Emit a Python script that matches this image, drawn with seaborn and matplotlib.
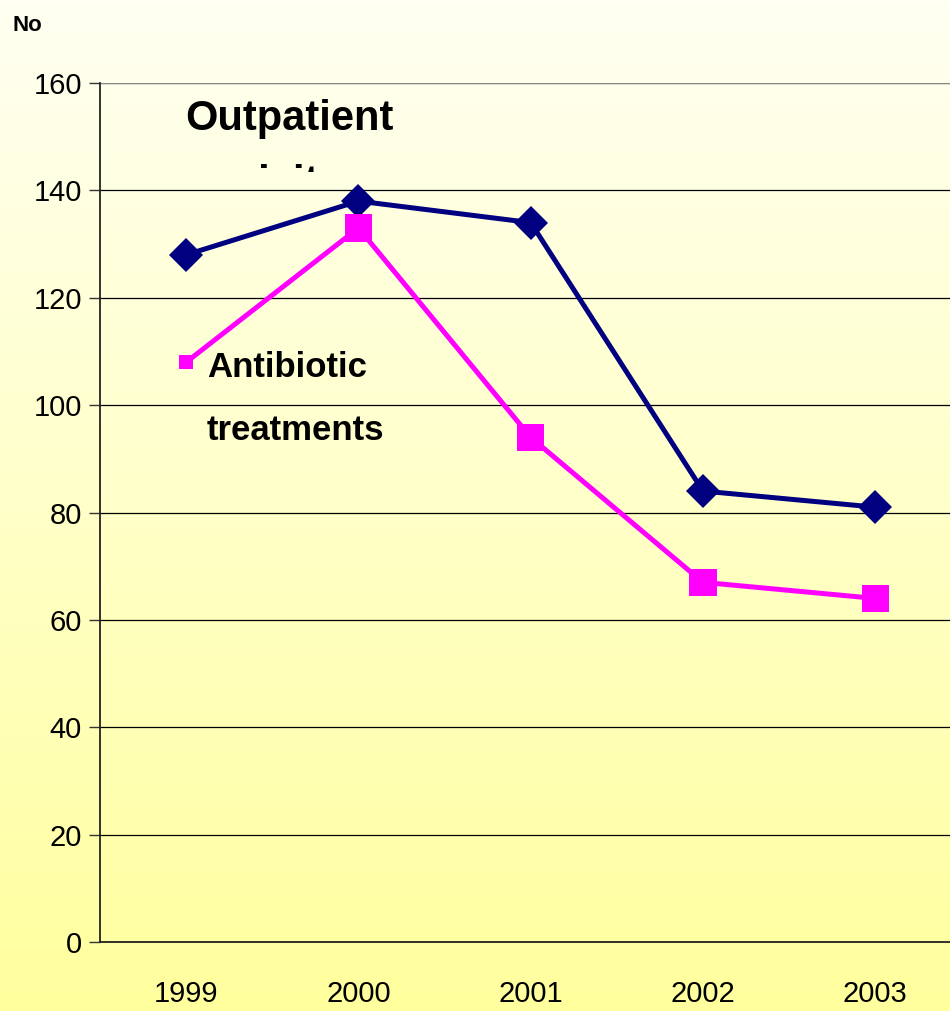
"""
Outpatient visits vs antibiotic treatments, 1999-2003
"""
import numpy as np
import pandas as pd
import matplotlib
matplotlib.use('Agg')
import matplotlib.pyplot as plt
import seaborn as sns
from matplotlib.transforms import Bbox, TransformedBbox

# Data
years = ['1999', '2000', '2001', '2002', '2003']
outpatient_visits = [128, 138, 134, 84, 81]
antibiotic_treatments = [108, 133, 94, 67, 64]
y_ticks = [0, 20, 40, 60, 80, 100, 120, 140, 160]

df = pd.DataFrame({
    'year': years * 2,
    'x': list(range(len(years))) * 2,
    'value': outpatient_visits + antibiotic_treatments,
    'series': ['Outpatient visits'] * len(years) + ['Antibiotic treatments'] * len(years),
})

sns.set_style('white')
plt.rcParams['font.family'] = ['Liberation Sans', 'DejaVu Sans']
plt.rcParams['text.color'] = 'black'
plt.rcParams['xtick.color'] = 'black'
plt.rcParams['ytick.color'] = 'black'
plt.rcParams['axes.labelcolor'] = 'black'

fig = plt.figure(figsize=(9.5, 10.11), dpi=100)

# Gradient background
bg = fig.add_axes([0, 0, 1, 1], zorder=-1)
top = np.array([255, 255, 242]) / 255
bottom = np.array([255, 255, 158]) / 255
t = np.linspace(0, 1, 256)[:, None]
grad = (top * (1 - t) + bottom * t)[:, None, :]
bg.imshow(grad, aspect='auto', extent=[0, 1, 0, 1])
bg.axis('off')

ax = fig.add_axes([0.1053, 0.0682, 0.9067, 0.8497])
ax.set_facecolor('none')

navy = '#000080'
magenta = '#FF00FF'

sub_o = df[df['series'] == 'Outpatient visits']
sub_a = df[df['series'] == 'Antibiotic treatments']

sns.lineplot(data=sub_o, x='x', y='value', ax=ax, color=navy, linewidth=3.6,
             marker='D', markersize=17, markeredgewidth=0, zorder=3)
sns.lineplot(data=sub_a, x='x', y='value', ax=ax, color=magenta, linewidth=3.6,
             zorder=4)
marker_sizes = [100, 380, 380, 380, 380]
ax.scatter(sub_a['x'], sub_a['value'], s=marker_sizes, marker='s',
           color=magenta, linewidths=0, zorder=5)

ax.set_xlim(-0.5, len(years) - 0.5)
ax.set_ylim(0, 160)
ax.set_yticks(y_ticks)
ax.set_yticklabels([str(v) for v in y_ticks], fontsize=21)
ax.set_xticks(range(len(years)))
ax.set_xticklabels(years, fontsize=21)
ax.set_xticks(np.arange(-0.5, len(years)), minor=True)
ax.tick_params(axis='x', which='major', length=0, pad=27)
ax.tick_params(axis='x', which='minor', length=10, width=1, color='#333333', direction='out')
ax.tick_params(axis='y', length=8, width=1, color='#333333', direction='out', pad=5, left=True)
ax.set_xlabel('')
ax.set_ylabel('')

ax.grid(axis='y', color='black', linewidth=0.9)
ax.grid(axis='x', visible=False)
ax.set_axisbelow(True)
for side in ['left', 'bottom']:
    ax.spines[side].set_color('#222222')
    ax.spines[side].set_linewidth(1.3)
ax.spines['top'].set_visible(False)
ax.spines['right'].set_visible(False)
ax.axhline(160, color='#888888', linewidth=1.5, zorder=1)

# Annotations
ax.text(0.60, 151.2, 'Outpatient', fontsize=30, fontweight='bold',
        ha='center', va='baseline', zorder=6)
visits = ax.text(0.60, 139.1, 'visits', fontsize=30, fontweight='bold',
                 ha='center', va='baseline', zorder=6)
# second line is cut off in the original (text box too short)
visits.set_clip_path(None)
visits.set_clip_box(TransformedBbox(Bbox([[0, 1 - 172 / 1011], [1, 1]]), fig.transFigure))
visits.set_clip_on(True)

ax.text(0.12, 105.2, 'Antibiotic', fontsize=25, fontweight='bold',
        ha='left', va='baseline', zorder=6)
ax.text(0.12, 93.6, 'treatments', fontsize=25, fontweight='bold',
        ha='left', va='baseline', zorder=6)

fig.text(0.013, 0.975, 'No', fontsize=16, fontweight='bold', ha='left', va='center')

fig.savefig('out.png', dpi=100)
plt.close(fig)
